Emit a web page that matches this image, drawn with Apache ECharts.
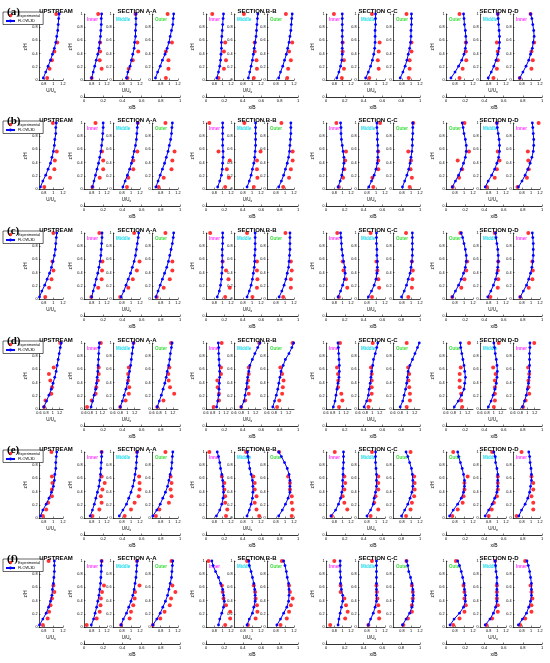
<!DOCTYPE html>
<html>
<head>
<meta charset="utf-8">
<script src="https://cdn.jsdelivr.net/npm/echarts@6/dist/echarts.min.js"></script>
<style>
  html, body { margin: 0; padding: 0; background: #fff; }
  #chart { width: 550px; height: 663px; }
</style>
</head>
<body>
<div id="chart"></div>
<script>
// heights of the profile points
const zSim = [0.03, 0.12, 0.21, 0.3, 0.39, 0.48, 0.57, 0.66, 0.75, 0.84, 0.93, 1.0];
const zExp6 = [0.03, 0.17, 0.3, 0.43, 0.57, 1.0];
const zExp8 = [0.03, 0.13, 0.23, 0.33, 0.43, 0.53, 0.63, 1.0];

const rowTags = ['(a)', '(b)', '(c)', '(d)', '(e)', '(f)'];
const sectionNames = ['UPSTREAM', 'SECTION A-A', 'SECTION B-B', 'SECTION C-C', 'SECTION D-D'];
// panel order left to right: upstream, A-A x3, B-B x3, C-C x3, D-D x3
const panelTags = ['', 'Inner', 'Middle', 'Outer', 'Inner', 'Middle', 'Outer',
  'Inner', 'Middle', 'Outer', 'Outer', 'Middle', 'Inner'];

// FLOW-3D profiles (U/Uo at zSim), one row per figure part
const simA = [
  [0.79,0.84,0.89,0.94,0.98,1.02,1.05,1.07,1.09,1.1,1.11,1.12],
  [0.8,0.84,0.88,0.92,0.96,0.99,1.01,1.03,1.04,1.05,1.05,1.06],
  [0.9,0.93,0.98,1.01,1.04,1.07,1.08,1.1,1.1,1.11,1.11,1.11],
  [0.68,0.73,0.79,0.84,0.9,0.95,0.99,1.02,1.05,1.08,1.09,1.1],
  [0.86,0.9,0.93,0.95,0.96,0.97,0.97,0.98,0.99,1.0,1.01,1.02],
  [0.92,0.95,0.98,1.01,1.03,1.05,1.07,1.09,1.1,1.11,1.12,1.13],
  [0.86,0.9,0.95,0.99,1.03,1.06,1.09,1.11,1.13,1.14,1.15,1.16],
  [0.86,0.91,0.95,0.98,0.99,0.99,0.99,0.99,0.99,0.99,0.99,0.99],
  [0.77,0.83,0.88,0.92,0.95,0.97,0.98,0.98,0.98,0.99,0.99,0.99],
  [0.76,0.82,0.87,0.91,0.94,0.97,0.99,1.0,1.0,1.01,1.01,1.01],
  [0.71,0.8,0.88,0.95,1.0,1.03,1.05,1.04,1.03,1.01,1.0,0.99],
  [0.79,0.86,0.92,0.97,1.01,1.04,1.05,1.05,1.04,1.03,1.02,1.01],
  [0.75,0.82,0.89,0.95,0.99,1.03,1.05,1.07,1.06,1.04,1.02,0.99]
];
const expA = [
  [0.87,0.92,0.97,1.02,1.08,1.06],
  [0.8,1.06,1.01,1.02,1.02,0.97],
  [0.92,0.95,1.04,1.16,1.14,1.1],
  [0.92,0.98,0.98,0.92,1.06,0.96],
  [0.9,1.03,1.08,1.03,1.06,0.75],
  [1.04,1.11,1.1,1.06,1.06,0.82],
  [1.05,1.07,1.13,1.09,1.16,1.02],
  [0.98,1.03,1.03,1.0,1.0,0.79],
  [0.85,1.06,1.04,1.06,1.08,0.91],
  [0.95,0.97,0.97,1.01,1.01,0.9],
  [0.9,0.97,1.05,1.04,1.04,0.9],
  [0.91,0.99,1.01,1.01,0.99,1.01],
  [0.75,1.01,1.04,1.01,1.07,0.99]
];

const simB = [
  [0.73,0.78,0.84,0.89,0.94,0.97,1.0,1.02,1.03,1.05,1.05,1.06],
  [0.82,0.86,0.9,0.94,0.98,1.01,1.04,1.06,1.08,1.09,1.1,1.1],
  [0.82,0.87,0.92,0.97,1.01,1.04,1.07,1.1,1.12,1.13,1.14,1.15],
  [0.69,0.74,0.79,0.84,0.89,0.93,0.97,1.0,1.03,1.05,1.06,1.07],
  [0.88,0.93,0.97,0.99,1.0,1.01,1.01,1.0,1.0,1.0,1.0,1.0],
  [0.89,0.94,0.98,1.01,1.04,1.06,1.07,1.08,1.08,1.08,1.08,1.08],
  [0.86,0.92,0.97,1.01,1.05,1.08,1.1,1.11,1.12,1.13,1.13,1.13],
  [0.89,0.94,0.98,1.01,1.03,1.03,1.01,0.99,0.97,0.96,0.96,0.95],
  [0.84,0.9,0.96,1.0,1.03,1.04,1.04,1.04,1.03,1.03,1.02,1.02],
  [0.81,0.86,0.91,0.95,0.98,1.0,1.02,1.03,1.03,1.04,1.04,1.04],
  [0.74,0.81,0.88,0.94,0.99,1.03,1.05,1.05,1.03,1.0,0.98,0.96],
  [0.72,0.79,0.87,0.94,0.99,1.03,1.05,1.05,1.04,1.02,1.0,0.99],
  [0.72,0.8,0.87,0.93,0.98,1.02,1.05,1.06,1.06,1.05,1.04,1.03]
];
const expB = [
  [0.81,0.93,1.02,1.03,1.07,0.99],
  [0.82,1.01,1.1,1.1,1.07,0.9],
  [0.91,0.94,1.05,1.05,1.14,1.15],
  [0.75,0.87,1.05,1.07,1.12,0.91],
  [1.06,1.15,1.1,1.17,0.9,0.68],
  [1.04,1.12,1.11,1.11,1.19,0.83],
  [0.96,1.09,1.13,1.17,1.17,0.92],
  [0.91,1.01,1.04,1.06,1.08,0.85],
  [0.94,0.92,1.05,1.05,1.05,1.09],
  [0.97,1.02,0.99,1.0,0.94,1.05],
  [0.75,0.89,0.96,0.86,1.11,1.01],
  [0.76,0.94,0.99,1.05,1.01,0.99],
  [0.7,0.91,0.95,0.94,0.93,1.17]
];

const simC = [
  [0.71,0.76,0.82,0.87,0.92,0.96,0.99,1.02,1.04,1.05,1.06,1.07],
  [0.8,0.84,0.88,0.92,0.96,0.99,1.02,1.04,1.05,1.06,1.07,1.07],
  [0.78,0.84,0.89,0.94,0.99,1.03,1.07,1.1,1.12,1.14,1.16,1.17],
  [0.69,0.74,0.79,0.84,0.89,0.94,0.98,1.01,1.04,1.07,1.09,1.1],
  [0.87,0.92,0.95,0.97,0.98,0.99,0.99,0.99,0.99,1.0,1.0,1.0],
  [0.89,0.94,0.98,1.01,1.03,1.05,1.06,1.06,1.07,1.07,1.07,1.07],
  [0.87,0.93,0.98,1.02,1.05,1.08,1.09,1.1,1.11,1.11,1.11,1.11],
  [0.89,0.95,1.0,1.04,1.06,1.05,1.02,1.0,0.98,0.97,0.96,0.95],
  [0.83,0.9,0.96,1.0,1.02,1.03,1.03,1.02,1.02,1.01,1.01,1.01],
  [0.79,0.85,0.9,0.94,0.98,1.0,1.02,1.03,1.03,1.03,1.03,1.03],
  [0.74,0.81,0.88,0.94,0.99,1.03,1.05,1.05,1.03,1.0,0.97,0.94],
  [0.78,0.85,0.91,0.96,0.99,1.01,1.02,1.02,1.01,0.99,0.97,0.96],
  [0.76,0.83,0.9,0.95,0.99,1.02,1.04,1.05,1.05,1.05,1.04,1.03]
];
const expC = [
  [0.83,0.91,0.96,1.0,0.98,1.0],
  [0.79,0.97,1.06,1.07,1.08,1.0],
  [0.76,0.94,1.04,1.13,1.19,1.07],
  [0.71,0.87,1.01,1.07,1.07,0.91],
  [1.06,1.17,1.14,1.08,1.0,0.7],
  [1.01,1.11,1.12,1.11,1.11,0.89],
  [0.96,1.13,1.13,1.15,1.13,1.01],
  [0.91,1.11,1.08,1.02,1.0,0.87],
  [0.91,1.07,1.05,1.03,1.01,0.88],
  [0.94,1.02,1.03,1.04,1.02,0.89],
  [0.74,0.94,1.01,1.05,1.07,0.92],
  [0.84,1.01,1.02,1.01,1.02,0.94],
  [0.76,0.95,1.03,1.04,1.03,0.94]
];

const simD = [
  [0.74,0.82,0.89,0.96,1.01,1.06,1.1,1.13,1.16,1.19,1.22,1.25],
  [0.83,0.88,0.93,0.98,1.01,1.03,1.05,1.06,1.07,1.08,1.09,1.1],
  [0.8,0.86,0.91,0.96,1.0,1.03,1.06,1.09,1.11,1.13,1.15,1.17],
  [0.75,0.81,0.87,0.92,0.97,1.01,1.04,1.08,1.11,1.13,1.16,1.18],
  [0.92,0.95,0.98,0.99,1.0,1.01,1.01,1.0,0.99,0.98,0.98,0.97],
  [0.8,0.88,0.91,0.94,0.96,0.98,1.01,1.04,1.11,1.18,1.26,1.32],
  [0.76,0.81,0.86,0.9,0.93,0.96,0.99,1.05,1.11,1.21,1.29,1.34],
  [0.82,0.87,0.9,0.93,0.96,0.99,1.0,1.0,0.99,0.98,0.97,0.96],
  [0.77,0.84,0.89,0.91,0.94,0.96,0.98,1.01,1.03,1.08,1.12,1.15],
  [0.8,0.87,0.91,0.95,0.98,1.0,1.02,1.07,1.14,1.21,1.28,1.33],
  [0.83,0.94,1.03,1.1,1.12,1.14,1.12,1.1,1.07,1.04,1.01,1.0],
  [0.84,0.92,0.98,1.03,1.07,1.09,1.1,1.09,1.07,1.04,1.02,1.0],
  [0.86,0.92,0.97,1.0,1.03,1.05,1.06,1.06,1.06,1.06,1.07,1.07]
];
const expD = [
  [0.75,0.79,0.96,0.98,0.93,0.89,1.03,1.22],
  [0.7,0.85,0.98,1.0,1.05,1.08,1.08,1.15],
  [0.8,0.95,1.04,1.05,1.02,1.02,1.04,1.17],
  [0.75,0.93,1.24,1.12,1.08,1.07,1.1,1.15],
  [0.83,0.99,0.99,0.95,0.94,1.05,1.05,1.07],
  [0.8,0.91,1.01,0.99,0.99,1.01,1.01,1.3],
  [0.88,0.94,1.02,1.04,1.06,1.02,0.97,1.31],
  [0.99,1.09,1.06,0.96,0.97,0.96,0.93,1.02],
  [0.89,0.93,0.98,0.98,0.98,0.98,0.96,1.01],
  [0.98,1.07,1.07,1.05,1.03,1.05,1.02,0.98],
  [1.05,1.02,1.02,0.98,0.98,0.98,1.01,1.24],
  [1.0,1.03,1.03,1.03,1.03,1.05,0.98,1.14],
  [0.88,0.95,1.05,1.03,1.03,1.05,1.02,1.19]
];

const simE = [
  [0.73,0.78,0.85,0.91,0.96,1.0,1.02,1.03,1.05,1.05,1.06,1.07],
  [0.76,0.82,0.87,0.91,0.95,0.99,1.01,1.03,1.04,1.05,1.06,1.06],
  [0.74,0.82,0.9,0.95,1.0,1.04,1.07,1.09,1.11,1.12,1.13,1.14],
  [0.62,0.71,0.79,0.85,0.91,0.96,0.99,1.02,1.05,1.06,1.07,1.08],
  [0.85,0.93,0.98,1.01,1.02,1.01,1.0,0.98,0.95,0.93,0.9,0.87],
  [0.89,0.94,0.98,1.01,1.02,1.02,1.01,0.98,0.95,0.93,0.91,0.9],
  [0.86,0.94,1.01,1.07,1.11,1.11,1.11,1.09,1.05,0.99,0.92,0.86],
  [0.72,0.83,0.9,0.95,0.98,1.0,1.0,1.01,1.01,1.02,1.02,1.02],
  [0.8,0.88,0.94,0.96,0.99,1.01,1.01,1.01,1.0,0.99,0.99,0.99],
  [0.79,0.86,0.93,0.98,1.02,1.04,1.04,1.03,1.01,0.97,0.93,0.89],
  [0.68,0.76,0.86,0.94,0.99,1.01,1.01,0.99,0.96,0.92,0.88,0.86],
  [0.72,0.8,0.88,0.94,0.99,1.01,1.01,1.01,0.99,0.96,0.95,0.92],
  [0.73,0.79,0.87,0.93,0.97,0.99,1.01,1.01,1.0,0.98,0.97,0.95]
];
const expE = [
  [0.78,0.85,0.89,0.97,0.97,0.98,0.97,0.96],
  [0.82,1.0,1.06,1.04,1.08,1.14,1.06,1.06],
  [0.86,1.0,1.08,1.17,1.19,1.19,1.18,1.13],
  [0.69,0.77,0.99,1.05,1.03,1.05,1.03,0.91],
  [1.08,1.11,1.06,1.06,1.04,1.04,0.98,0.68],
  [1.16,1.1,1.06,1.1,1.06,1.06,1.03,0.87],
  [1.15,1.17,1.15,1.15,1.11,1.11,1.07,0.87],
  [0.74,1.11,1.04,1.0,1.04,1.06,1.04,0.81],
  [0.88,1.05,0.96,0.99,1.05,1.05,1.05,0.91],
  [0.89,0.99,1.02,1.07,1.08,1.08,1.07,0.99],
  [0.74,0.86,0.97,0.99,1.01,1.01,1.08,0.76],
  [0.8,0.87,0.92,0.99,1.01,1.01,1.01,0.88],
  [0.68,1.05,1.05,1.01,1.05,1.05,1.01,0.79]
];

const simF = [
  [0.71,0.78,0.85,0.9,0.94,0.97,0.98,1.0,1.01,1.02,1.02,1.02],
  [0.79,0.85,0.89,0.93,0.96,0.99,1.01,1.03,1.04,1.05,1.05,1.06],
  [0.78,0.83,0.9,0.95,1.0,1.04,1.07,1.09,1.11,1.12,1.13,1.14],
  [0.62,0.71,0.79,0.85,0.91,0.96,0.99,1.02,1.05,1.06,1.07,1.08],
  [0.9,0.93,0.98,1.02,1.04,1.02,1.0,0.95,0.9,0.83,0.77,0.74],
  [0.89,0.94,1.01,1.04,1.07,1.07,1.06,1.04,1.01,0.98,0.94,0.93],
  [0.82,0.9,0.97,1.04,1.08,1.09,1.09,1.08,1.05,1.03,1.0,0.97],
  [0.89,0.91,0.94,0.97,1.0,1.0,0.97,0.95,0.95,0.94,0.94,0.94],
  [0.83,0.88,0.94,0.98,1.01,1.01,1.01,1.01,1.01,1.01,1.01,1.01],
  [0.81,0.89,0.97,1.02,1.04,1.05,1.04,1.02,0.99,0.95,0.93,0.9],
  [0.69,0.78,0.9,0.99,1.03,1.03,1.01,1.0,0.97,0.94,0.9,0.86],
  [0.72,0.83,0.91,0.96,0.99,0.99,0.99,0.99,0.99,0.97,0.96,0.95],
  [0.72,0.81,0.9,0.95,0.99,1.01,1.01,1.01,0.99,0.97,0.94,0.91]
];
const expF = [
  [0.78,0.88,0.91,0.94,0.97,1.02,1.0,0.9],
  [0.67,0.93,1.01,1.03,1.04,1.07,1.12,1.06],
  [0.78,0.97,1.0,1.05,1.08,1.09,1.19,1.13],
  [0.62,0.79,0.89,1.01,1.04,1.14,1.07,1.05],
  [1.06,1.18,1.18,1.08,1.02,1.0,0.98,0.66],
  [0.91,1.08,1.12,1.11,1.08,1.07,1.04,0.89],
  [0.9,1.04,1.09,1.13,1.17,1.11,1.09,0.93],
  [0.7,1.06,1.12,1.08,1.04,0.95,0.95,0.8],
  [0.83,1.07,1.07,1.05,1.03,1.02,1.01,0.91],
  [0.83,0.93,1.02,1.02,1.04,1.04,1.02,0.9],
  [0.76,0.9,1.01,1.04,1.01,1.01,0.99,0.82],
  [0.75,0.88,1.01,1.01,0.99,0.99,0.99,0.95],
  [0.76,0.87,1.01,1.01,1.03,1.01,0.99,0.87]
];

const rowsSim = [simA, simB, simC, simD, simE, simF];
const rowsExp = [expA, expB, expC, expD, expE, expF];
const rowsExpZ = [zExp6, zExp6, zExp6, zExp8, zExp8, zExp8];

// layout
const rowTop = [14, 123, 233, 343, 452, 561];
const plotH = 66;
const colLeft = [39, 84, 113, 152, 206, 234, 267, 326, 358, 393, 446, 480, 513];
const colWidth = [24, 23, 27, 26, 25, 27, 27, 25, 27, 27, 27, 26, 27];
const xbSpan = [[84, 180], [206, 298], [326, 420], [446, 542]];
const firstPanels = [0, 1, 4, 7, 10];
const midPanels = [0, 2, 5, 8, 11];
const tagColor = { Inner: '#ff3cff', Middle: '#1fdcec', Outer: '#3cdc3c' };
const FONT = 'Arial, "Liberation Sans", sans-serif';

const grid = [], xAxis = [], yAxis = [], series = [], title = [], legend = [], graphic = [];

rowTags.forEach((tag, r) => {
  const top = rowTop[r];
  const wide = r === 3;
  const ticks = wide ? [0.6, 0.8, 1, 1.2] : [0.8, 1, 1.2];

  title.push({
    text: tag, left: 2, top: top - 12,
    textStyle: { fontSize: 11, fontWeight: 'bold', fontFamily: '"Liberation Serif", serif', color: '#000' }
  });
  legend.push({
    left: 3, top: top - 2, orient: 'vertical', padding: [1.5, 3, 1.5, 2], itemGap: 1.5,
    itemWidth: 9, itemHeight: 3.5, borderColor: '#000', borderWidth: 0.6,
    backgroundColor: '#fff',
    textStyle: { fontSize: 3.8, fontFamily: FONT, color: '#000', padding: [0, 0, 0, -2] },
    data: ['Experimental', 'FLOW-3D']
  });

  // section titles
  title.push({
    text: sectionNames[0], left: colLeft[0] + colWidth[0] / 2, top: top - 11, textAlign: 'center',
    textStyle: { fontSize: 6, fontWeight: 'bold', fontFamily: FONT, color: '#000' }
  });
  xbSpan.forEach((s, k) => {
    title.push({
      text: sectionNames[k + 1], left: (s[0] + s[1]) / 2, top: top - 11, textAlign: 'center',
      textStyle: { fontSize: 6, fontWeight: 'bold', fontFamily: FONT, color: '#000' }
    });
  });

  panelTags.forEach((pt, p) => {
    const gi = grid.length;
    grid.push({ left: colLeft[p], top: top, width: colWidth[p], height: plotH });
    const range = p === 0 ? (wide ? [0.6, 1.3] : [0.7, 1.2]) : (wide ? [0.6, 1.35] : [0.6, 1.2]);
    const isMid = midPanels.includes(p);
    xAxis.push({
      gridIndex: gi, type: 'value', min: range[0], max: range[1],
      axisLine: { lineStyle: { color: '#000', width: 0.7 } },
      axisTick: { inside: true, length: 1.5, customValues: ticks, lineStyle: { color: '#000', width: 0.5 } },
      axisLabel: { customValues: ticks, fontSize: 3.8, margin: 1.5, color: '#000', fontFamily: FONT },
      splitLine: { show: false },
      name: isMid ? 'U/U{s|o}' : '', nameLocation: 'middle', nameGap: 8,
      nameTextStyle: { fontSize: 4.5, color: '#000', fontFamily: FONT,
        rich: { s: { fontSize: 3, padding: [3, 0, 0, 0], fontFamily: FONT } } }
    });
    yAxis.push({
      gridIndex: gi, type: 'value', min: 0, max: 1, interval: 0.2,
      axisLine: { show: true, lineStyle: { color: '#000', width: 0.7 } },
      axisTick: { show: true, inside: true, length: 1.5, lineStyle: { color: '#000', width: 0.5 } },
      axisLabel: { fontSize: 3.8, margin: 1.5, color: '#000', fontFamily: FONT },
      splitLine: { show: false },
      name: firstPanels.includes(p) ? 'z/H' : '', nameLocation: 'middle', nameGap: 9, nameRotate: 90,
      nameTextStyle: { fontSize: 4.5, color: '#000', fontFamily: FONT }
    });
    series.push({
      name: 'Experimental', type: 'scatter', xAxisIndex: gi, yAxisIndex: gi,
      symbol: 'circle', symbolSize: 4, itemStyle: { color: '#ff0000' }, z: 2,
      data: rowsExpZ[r].map((z, i) => [rowsExp[r][p][i], z])
    });
    series.push({
      name: 'FLOW-3D', type: 'line', xAxisIndex: gi, yAxisIndex: gi,
      symbol: 'circle', symbolSize: 2.8, showSymbol: true,
      lineStyle: { color: '#0000ff', width: 1 }, itemStyle: { color: '#0000ff' }, z: 3,
      data: zSim.map((z, i) => [rowsSim[r][p][i], z])
    });
    if (pt) {
      graphic.push({
        type: 'text', left: colLeft[p] + 3, top: top + 3,
        style: { text: pt, fill: tagColor[pt], font: 'bold 4.5px ' + FONT }
      });
    }
  });

  // x/B axes under each section
  xbSpan.forEach(s => {
    const gi = grid.length;
    grid.push({ left: s[0], top: top + plotH + 14, width: s[1] - s[0], height: 3 });
    xAxis.push({
      gridIndex: gi, type: 'value', min: 0, max: 1, interval: 0.2,
      axisLine: { lineStyle: { color: '#000', width: 0.8 } },
      axisTick: { inside: true, length: 1.5, lineStyle: { color: '#000', width: 0.5 } },
      axisLabel: { fontSize: 4, margin: 1.5, color: '#000', fontFamily: FONT },
      splitLine: { show: false },
      name: 'x/B', nameLocation: 'middle', nameGap: 8,
      nameTextStyle: { fontSize: 5, color: '#000', fontFamily: FONT }
    });
    yAxis.push({
      gridIndex: gi, type: 'value', min: 0, max: 1,
      axisLine: { show: true, lineStyle: { color: '#000', width: 0.6 } },
      axisTick: { show: false },
      axisLabel: { customValues: [0], fontSize: 3.5, margin: 1.5, color: '#000', fontFamily: FONT },
      splitLine: { show: false }
    });
  });
});

const chart = echarts.init(document.getElementById('chart'), null, { renderer: 'canvas' });
chart.setOption({
  animation: false,
  backgroundColor: '#fff',
  title, legend, grid, xAxis, yAxis, series, graphic
});
</script>
</body>
</html>
